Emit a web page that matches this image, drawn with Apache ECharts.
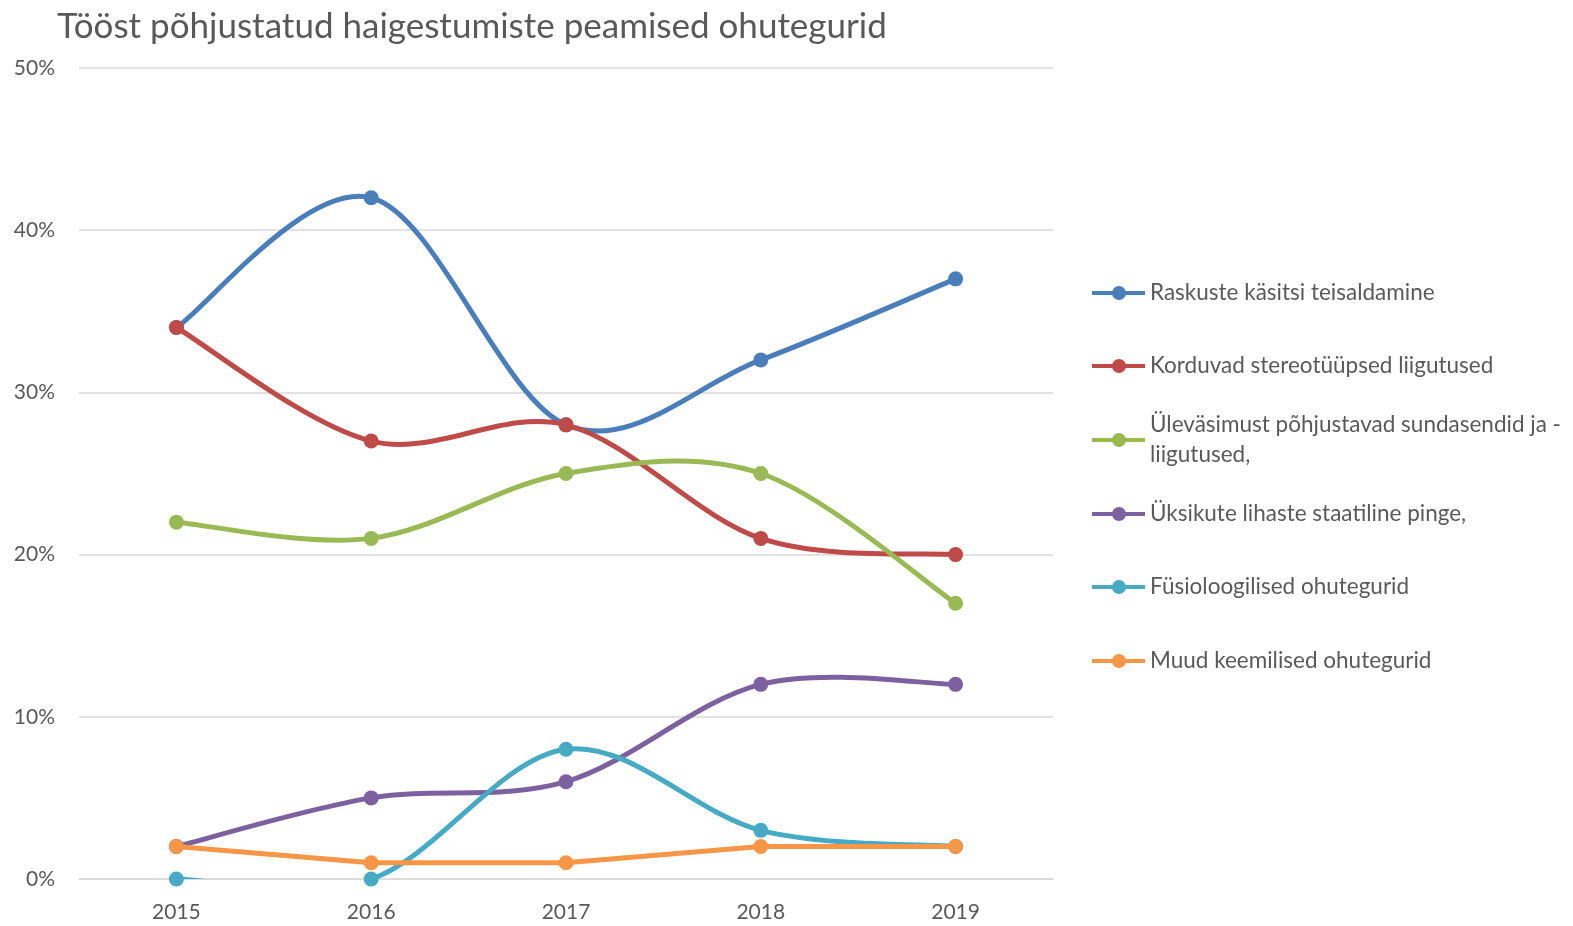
<!DOCTYPE html>
<html><head><meta charset="utf-8">
<script src="https://cdn.jsdelivr.net/npm/echarts@6/dist/echarts.min.js"></script>
<style>html,body{margin:0;padding:0;background:#fff}#c{width:1573px;height:926px}</style>
</head><body><div id="c"></div>
<script>
const titleText = 'Tööst põhjustatud haigestumiste peamised ohutegurid';
const years = ['2015', '2016', '2017', '2018', '2019'];
const seriesNames = [
  'Raskuste käsitsi teisaldamine',
  'Korduvad stereotüüpsed liigutused',
  'Üleväsimust põhjustavad sundasendid ja - liigutused,',
  'Üksikute lihaste staatiline pinge,',
  'Füsioloogilised ohutegurid',
  'Muud keemilised ohutegurid'
];
const raskused = [34, 42, 28, 32, 37];
const korduvad = [34, 27, 28, 21, 20];
const ylevasimus = [22, 21, 25, 25, 17];
const lihased = [2, 5, 6, 12, 12];
const fysio = [0, 0, 8, 3, 2];
const keemilised = [2, 1, 1, 2, 2];
const yTicks = [0, 10, 20, 30, 40, 50];
</script>
<script>
const values = [raskused, korduvad, ylevasimus, lihased, fysio, keemilised];
const smoothed = [true, true, true, true, true, false];
const colors = ['#4a7ebb', '#be4b48', '#98b954', '#7d60a0', '#46aac5', '#f79646'];
const FONT = 'Lato';
const legendCenters = [293, 366, 440, 514, 587, 661];
const LH = 30;
const ICON = 'path://M0,5 H53 V9 H0 Z M20,7 A7,7 0 1,1 34,7 A7,7 0 1,1 20,7 Z';
const chart = echarts.init(document.getElementById('c'));

const legends = seriesNames.map((n, i) => {
  const wrap = i === 2;
  return {
    data: [{ name: n, icon: ICON, itemStyle: { color: colors[i] } }],
    orient: 'vertical',
    left: 1092,
    top: wrap ? legendCenters[i] - 1.5 * LH : legendCenters[i] - LH / 2,
    padding: 0,
    itemWidth: 53,
    itemHeight: 14,
    itemGap: 0,
    selectedMode: false,
    formatter: wrap ? (name) => name.replace('ja - ', 'ja -\n') : '{name}',
    textStyle: {
      fontFamily: FONT, fontSize: 22.5, color: '#595959', lineHeight: LH,
      padding: wrap ? [LH, 0, 0, 0] : 0
    }
  };
});

// Excel-style smoothed line (Catmull-Rom, tension 1/6) drawn from axis coordinates
function linePath(pts, smooth) {
  let d = 'M' + pts[0][0] + ',' + pts[0][1];
  for (let k = 0; k < pts.length - 1; k++) {
    const P0 = pts[k - 1] || pts[k], P1 = pts[k], P2 = pts[k + 1], P3 = pts[k + 2] || pts[k + 1];
    if (!smooth) { d += ' L' + P2[0] + ',' + P2[1]; continue; }
    const c1x = P1[0] + (P2[0] - P0[0]) / 6, c1y = P1[1] + (P2[1] - P0[1]) / 6;
    const c2x = P2[0] - (P3[0] - P1[0]) / 6, c2y = P2[1] - (P3[1] - P1[1]) / 6;
    d += ' C' + c1x + ',' + c1y + ' ' + c2x + ',' + c2y + ' ' + P2[0] + ',' + P2[1];
  }
  return d;
}

const series = [];
seriesNames.forEach((n, i) => {
  series.push({
    name: n, type: 'custom', clip: true, z: 2 + 2 * i,
    data: values[i].map((v, j) => [j, v]),
    encode: { x: 0, y: 1 },
    renderItem: (params, api) => {
      if (params.dataIndex !== 0) return null;
      const pts = values[i].map((v, j) => api.coord([j, v]));
      return {
        type: 'path',
        shape: { pathData: linePath(pts, smoothed[i]) },
        style: { stroke: colors[i], lineWidth: 5, fill: 'none', lineJoin: 'round', lineCap: 'round' }
      };
    },
    silent: true
  });
  series.push({
    name: n, type: 'line', data: values[i], z: 3 + 2 * i,
    symbol: 'circle', symbolSize: 15,
    lineStyle: { opacity: 0, width: 0 },
    itemStyle: { color: colors[i] },
    emphasis: { disabled: true }
  });
});

chart.setOption({
  animation: false,
  textStyle: { fontFamily: FONT },
  title: {
    text: titleText, left: 52, top: 4,
    textStyle: { fontFamily: FONT, fontSize: 35, fontWeight: 'normal', color: '#595959' }
  },
  legend: legends,
  grid: { left: 79, right: 520, top: 68, bottom: 47, containLabel: false },
  xAxis: {
    type: 'category', data: years, boundaryGap: true,
    axisLine: { show: true, lineStyle: { color: '#d9d9d9', width: 1.5 } },
    axisTick: { show: false },
    axisLabel: { fontFamily: FONT, fontSize: 21, color: '#595959', margin: 23 }
  },
  yAxis: {
    type: 'value', min: yTicks[0], max: yTicks[yTicks.length - 1], interval: 10,
    axisLine: { show: false }, axisTick: { show: false },
    splitLine: { lineStyle: { color: '#d9d9d9', width: 1.5 } },
    axisLabel: { fontFamily: FONT, fontSize: 21, color: '#595959', margin: 24, formatter: '{value}%' }
  },
  series: series
});
</script>
</body></html>
